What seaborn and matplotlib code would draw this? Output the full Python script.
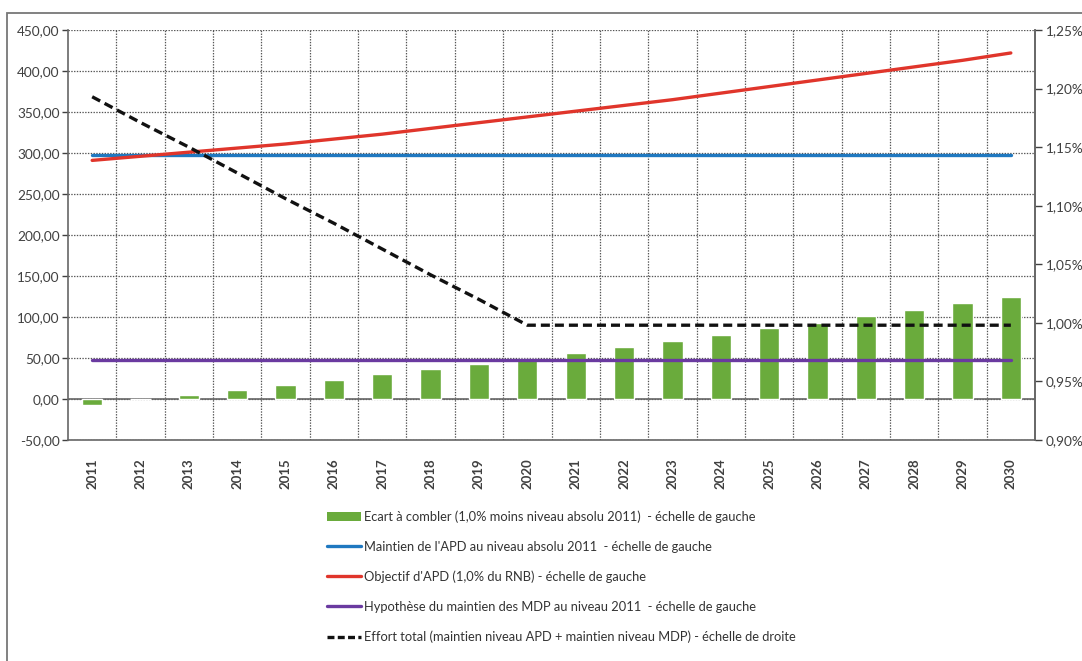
import numpy as np
import pandas as pd
import matplotlib
matplotlib.use("Agg")
import matplotlib.pyplot as plt
import seaborn as sns
from matplotlib.patches import Patch, Rectangle
from matplotlib.lines import Line2D
from matplotlib.ticker import FuncFormatter, MultipleLocator, FixedLocator

years = list(range(2011, 2031))
ecart = [-7, 0, 5, 11, 17, 23, 30, 36, 43, 49, 56, 64, 71, 78, 86, 93, 101, 109, 117, 125]
maintien_apd = [298] * 20
objectif_apd = [291, 296, 301, 306, 311, 317, 323, 330, 337, 344, 351, 358, 365, 373, 381, 389, 397, 405, 413, 422]
maintien_mdp = [48] * 20
effort_total = [1.193, 1.171, 1.150, 1.128, 1.106, 1.085, 1.063, 1.041, 1.020, 0.998,
                0.998, 0.998, 0.998, 0.998, 0.998, 0.998, 0.998, 0.998, 0.998, 0.998]

labels = [
    "Ecart à combler (1,0% moins niveau absolu 2011)  - échelle de gauche",
    "Maintien de l'APD au niveau absolu 2011  - échelle de gauche",
    "Objectif d'APD (1,0% du RNB) - échelle de gauche",
    "Hypothèse du maintien des MDP au niveau 2011  - échelle de gauche",
    "Effort total (maintien niveau APD + maintien niveau MDP) - échelle de droite",
]

c_green = "#6aab3c"
c_blue = "#1f78c0"
c_red = "#e0352b"
c_purple = "#6a3aa0"
c_grid = "#555555"
c_text = "#404040"

sns.set_theme(style="white")
plt.rcParams["font.family"] = ["Lato", "DejaVu Sans"]
plt.rcParams["lines.scale_dashes"] = False

df = pd.DataFrame({"year": years, "ecart": ecart, "apd": maintien_apd,
                   "obj": objectif_apd, "mdp": maintien_mdp, "effort": effort_total})

fig = plt.figure(figsize=(10.82, 6.61), dpi=100)
ax = fig.add_axes([68 / 1082, 1 - 440 / 661, (1035 - 68) / 1082, (440 - 30) / 661])

sns.barplot(data=df, x="year", y="ecart", native_scale=True, color=c_green,
            width=0.42, ax=ax, saturation=1, zorder=3)
sns.lineplot(data=df, x="year", y="apd", color=c_blue, lw=2.4, ax=ax, zorder=4)
sns.lineplot(data=df, x="year", y="obj", color=c_red, lw=2.4, ax=ax, zorder=4)
sns.lineplot(data=df, x="year", y="mdp", color=c_purple, lw=2.4, ax=ax, zorder=4)

ax.set_xlim(2010.5, 2030.5)
ax.set_ylim(-50, 450)
ax.yaxis.set_major_locator(MultipleLocator(50))
ax.yaxis.set_major_formatter(FuncFormatter(lambda v, p: f"{v:.2f}".replace(".", ",")))
ax.xaxis.set_major_locator(FixedLocator(years))
ax.set_xticklabels([str(y) for y in years], rotation=90, fontsize=9.5, color=c_text,
                   fontweight="bold")
ax.xaxis.set_minor_locator(FixedLocator([y + 0.5 for y in years[:-1]]))
ax.set_xlabel("")
ax.set_ylabel("")
ax.tick_params(axis="y", labelsize=9.8, colors=c_text, length=4, width=1, direction="out",
               left=True, pad=2)
ax.tick_params(axis="x", which="major", length=0, pad=13)
ax.tick_params(axis="x", which="minor", length=0)
ax.grid(False)
ax.grid(axis="y", which="major", color=c_grid, linestyle=(0, (1, 1)), linewidth=0.9, zorder=0)
ax.grid(axis="x", which="minor", color=c_grid, linestyle=(0, (1, 1)), linewidth=0.9, zorder=0)
ax.axhline(0, color="#666666", lw=1.2, zorder=2)
for s in ["left", "bottom", "right"]:
    ax.spines[s].set_color("#666666")
    ax.spines[s].set_linewidth(1.2)
ax.spines["top"].set_visible(False)
for lab in ax.get_yticklabels():
    lab.set_color(c_text)

ax2 = ax.twinx()
sns.lineplot(data=df, x="year", y="effort", color="#111111", lw=2.4, ax=ax2, zorder=5)
for ln in ax2.lines:
    ln.set_linestyle((0, (6.5, 3.6)))
ax2.set_ylim(0.90, 1.25)
ax2.set_xlim(2010.5, 2030.5)
ax2.yaxis.set_major_locator(MultipleLocator(0.05))
ax2.yaxis.set_major_formatter(FuncFormatter(lambda v, p: f"{v:.2f}%".replace(".", ",")))
ax2.set_ylabel("")
ax2.tick_params(axis="y", labelsize=9.8, colors=c_text, length=5, width=1, direction="out",
                right=True, pad=3)
ax2.grid(False)
for s in ["left", "bottom", "top"]:
    ax2.spines[s].set_visible(False)
ax2.spines["right"].set_color("#666666")
ax2.spines["right"].set_linewidth(1.2)

handles = [
    Patch(facecolor=c_green, edgecolor="none"),
    Line2D([], [], color=c_blue, lw=2.4),
    Line2D([], [], color=c_red, lw=2.4),
    Line2D([], [], color=c_purple, lw=2.4),
    Line2D([], [], color="#111111", lw=2.4, linestyle=(0, (5.0, 2.4))),
]
leg = fig.legend(handles, labels, loc="upper left", bbox_to_anchor=(322 / 1082, 1 - 505 / 661),
                 frameon=False, fontsize=9.3, handlelength=2.6, handletextpad=0.25,
                 labelspacing=1.38, borderaxespad=0)
for t in leg.get_texts():
    t.set_color("#333333")

fig.add_artist(Rectangle((7 / 1082, -0.05), 1.1, 1 - 13 / 661 + 0.05,
                         transform=fig.transFigure, fill=False, edgecolor="#777777",
                         lw=1.3))

fig.savefig("out.png", dpi=100)
